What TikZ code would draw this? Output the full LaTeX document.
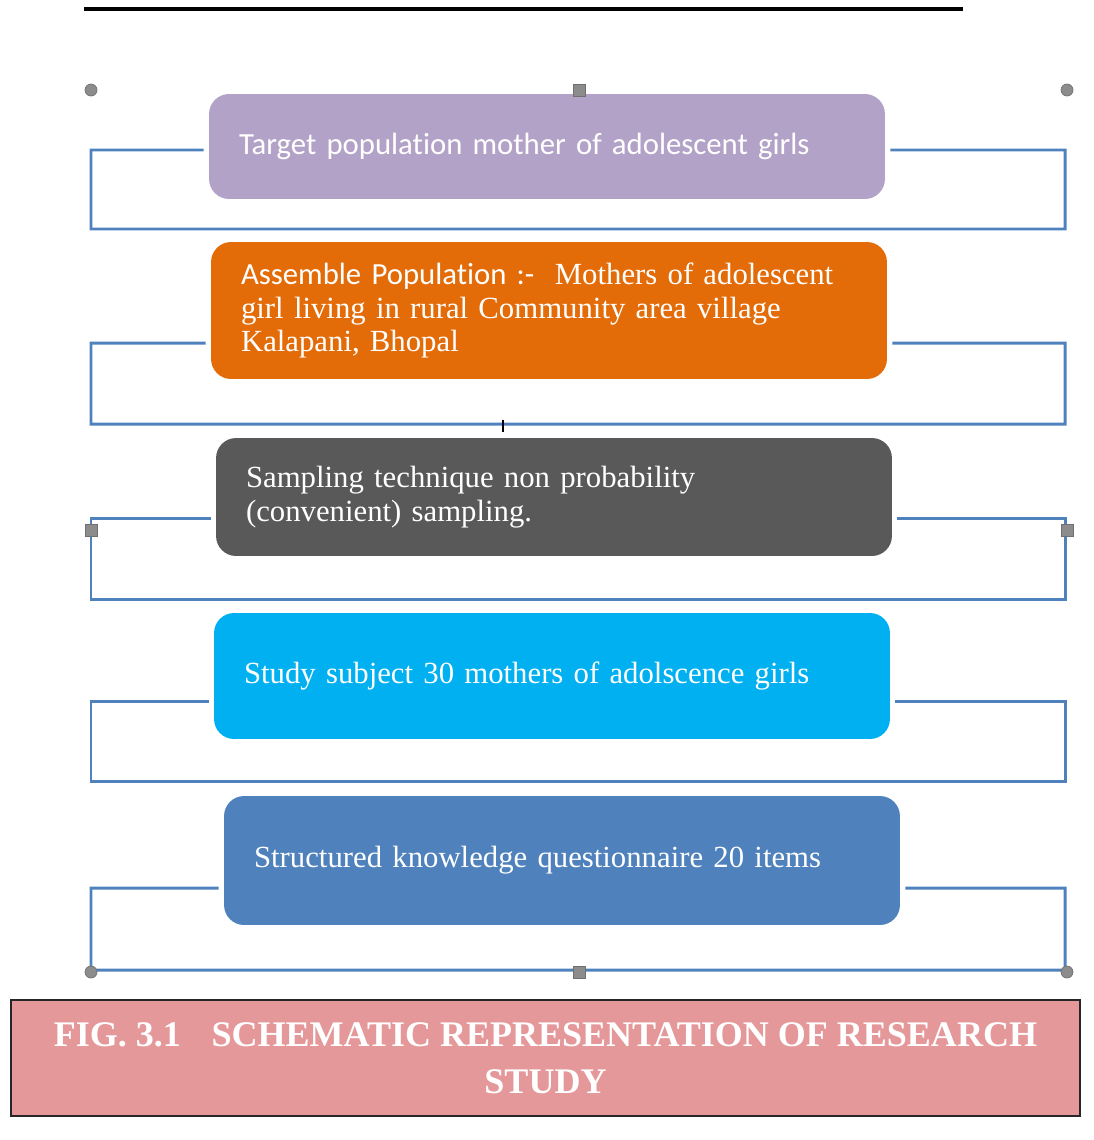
\documentclass[tikz,border=0pt]{standalone}
\usepackage{fontspec}
\usetikzlibrary{calc}
\setmainfont{Liberation Serif}
\newfontfamily\calibri[Ligatures=NoCommon]{Carlito}
\definecolor{lilac}{HTML}{B3A2C7}
\definecolor{rust}{HTML}{E36C09}
\definecolor{slate}{HTML}{595959}
\definecolor{sky}{HTML}{00B0F0}
\definecolor{steel}{HTML}{4F81BD}
\definecolor{rose}{HTML}{E5989A}
\definecolor{grip}{HTML}{8C8C8C}
\begin{document}
\begin{tikzpicture}[x=0.02cm, y=-0.02cm,
    stage/.style={rounded corners=0.4cm, text=white, minimum width=13.52cm,
        inner xsep=0.6cm, text width=12.32cm, align=left, font=\fontsize{17.5}{19}\selectfont},
    bracket/.style={steel, line width=1.7pt},
    handle/.style={fill=grip, draw=grip!80!black, line width=0.4pt}]
    \useasboundingbox (0,0) rectangle (1094,1140);
    \draw[line width=2.2pt] (84,9) -- (963,9);
    \node[stage, fill=lilac, minimum height=2.1cm] (target) at (547,146.5)
        {{\calibri Target population mother of adolescent girls}};
    \node[stage, fill=rust, minimum height=2.74cm] (assemble) at (549,310.5)
        {{\calibri Assemble Population :-}\ \ Mothers of adolescent\\girl living in rural Community area village\\Kalapani, Bhopal};
    \node[stage, fill=slate, minimum height=2.36cm] (sampling) at (554,497)
        {Sampling technique non probability\\(convenient) sampling.};
    \node[stage, fill=sky, minimum height=2.52cm] (subject) at (552,676)
        {Study subject 30 mothers of adolscence girls};
    \node[stage, fill=steel, minimum height=2.58cm] (tool) at (562,860.5)
        {Structured knowledge questionnaire 20 items};
    \draw[bracket] ($(target.west)+(-5,3.5)$) -- (91,150) -- (91,229) -- (1065,229) -- (1065,150) -- ($(target.east)+(5,3.5)$);
    \draw[bracket] ($(assemble.west)+(-5,32.5)$) -- (91,343) -- (91,424) -- (1065,424) -- (1065,343) -- ($(assemble.east)+(5,32.5)$);
    \draw[bracket] ($(sampling.west)+(-5,21)$) -- (91,518) -- (91,599) -- (1065,599) -- (1065,518) -- ($(sampling.east)+(5,21)$);
    \draw[bracket] ($(subject.west)+(-5,25)$) -- (91,701) -- (91,781) -- (1065,781) -- (1065,701) -- ($(subject.east)+(5,25)$);
    \draw[bracket] ($(tool.west)+(-5,27.5)$) -- (91,888) -- (91,970) -- (1065,970) -- (1065,888) -- ($(tool.east)+(5,27.5)$);
    \draw[line width=0.6pt] (503,420) -- (503,432);
    \filldraw[handle] (91,90) circle(0.12cm);
    \filldraw[handle] (1067,90) circle(0.12cm);
    \filldraw[handle] (91,972) circle(0.12cm);
    \filldraw[handle] (1067,972) circle(0.12cm);
    \filldraw[handle] (573,84) rectangle (585,96);
    \filldraw[handle] (85,524) rectangle (97,536);
    \filldraw[handle] (1061,524) rectangle (1073,536);
    \filldraw[handle] (573,966) rectangle (585,978);
    \node[fill=rose, draw=black!85, line width=1.2pt, minimum width=21.38cm, minimum height=2.32cm,
        align=center, text=white, font=\bfseries\fontsize{20.5}{27}\selectfont] (caption) at (545.5,1058)
        {FIG. 3.1\hspace{0.85em}SCHEMATIC REPRESENTATION OF RESEARCH\\STUDY};
\end{tikzpicture}
\end{document}
